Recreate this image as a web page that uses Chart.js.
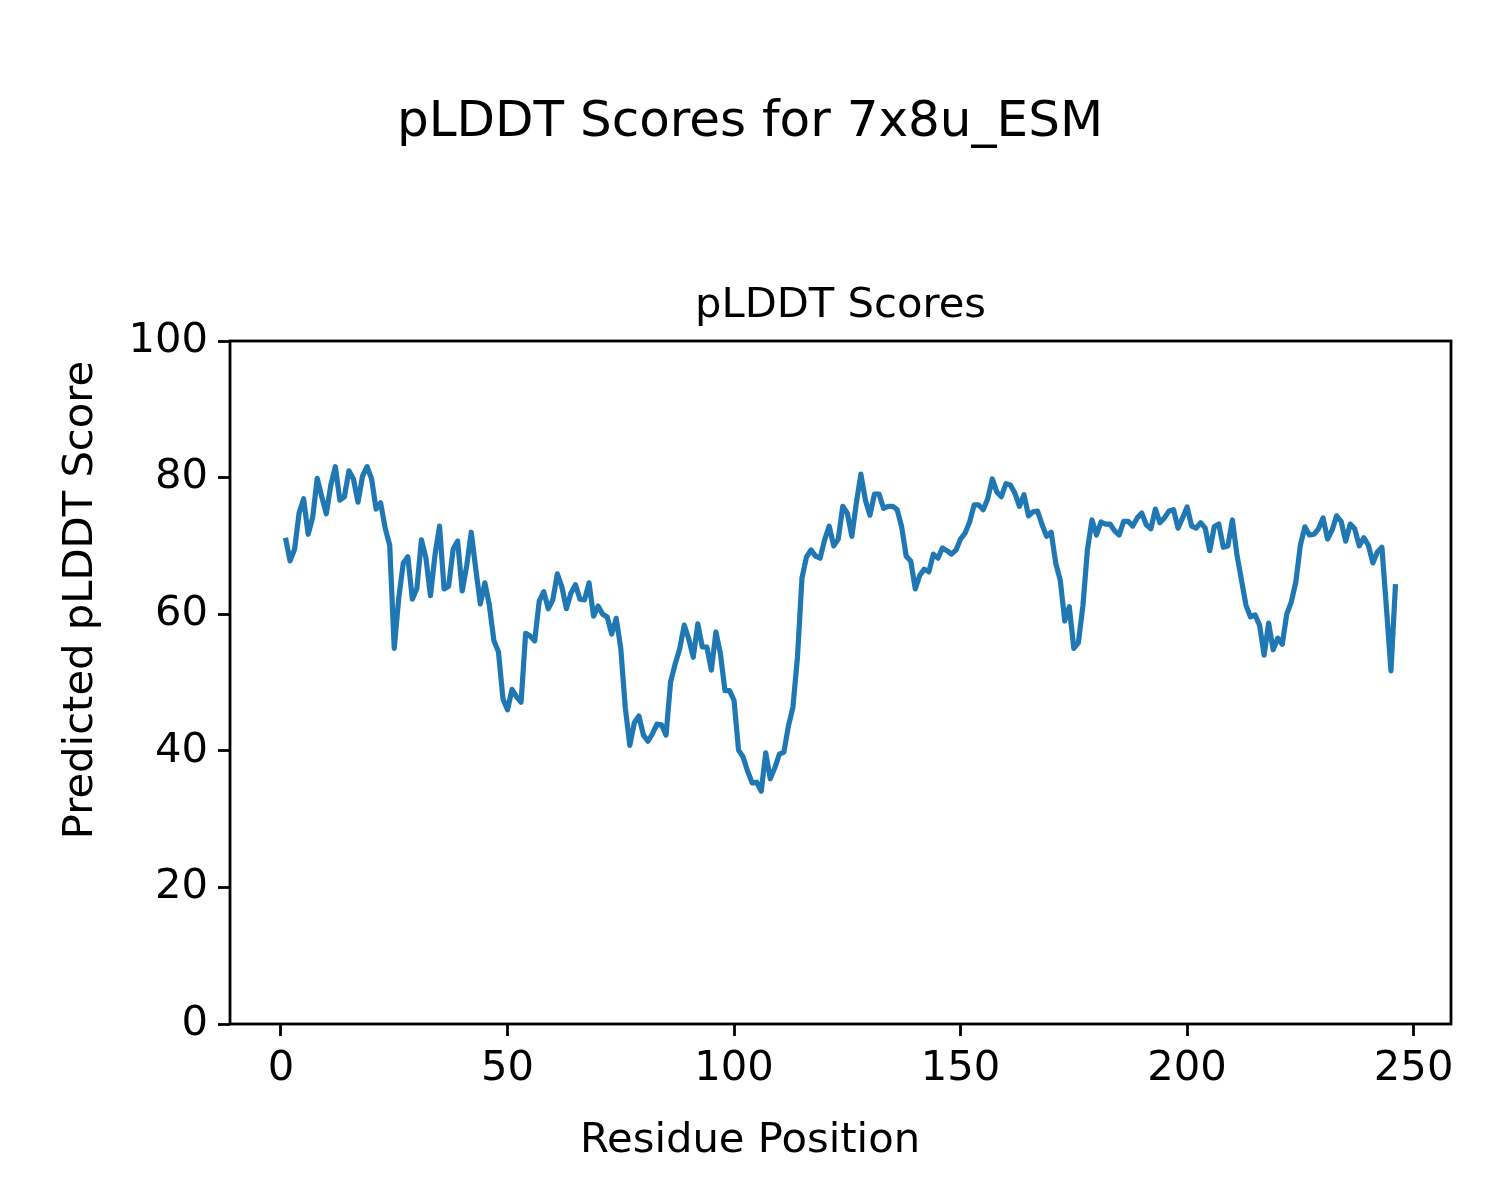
<!DOCTYPE html>
<html>
<head>
<meta charset="utf-8">
<script src="https://cdn.jsdelivr.net/npm/chart.js@4.4.1/dist/chart.umd.min.js"></script>
<style>
  html, body { margin: 0; padding: 0; background: #fff; }
  canvas { display: block; }
</style>
</head>
<body>
<canvas id="plddtChart" width="1500" height="1200"></canvas>
<script>
// pLDDT per residue (residue 1 .. 246)
const scores = [
    71.2, 67.8, 69.5, 74.8, 76.9, 71.7, 74.2, 79.9, 77.2, 74.7,
    78.9, 81.6, 76.7, 77.2, 81.0, 79.8, 76.4, 80.2, 81.6, 79.8,
    75.4, 76.3, 72.6, 70.1, 55.0, 62.4, 67.5, 68.4, 62.2, 63.8,
    70.9, 68.2, 62.7, 68.7, 72.9, 63.7, 64.1, 69.5, 70.7, 63.4,
    67.1, 72.0, 66.6, 61.5, 64.6, 61.3, 56.1, 54.5, 47.6, 46.0,
    49.0, 47.9, 47.1, 57.2, 56.8, 56.1, 61.9, 63.3, 60.8, 62.1,
    65.9, 64.0, 60.8, 63.1, 64.3, 62.2, 62.1, 64.6, 59.7, 61.2,
    60.0, 59.6, 57.1, 59.4, 55.0, 46.3, 40.8, 44.1, 45.1, 42.3,
    41.4, 42.5, 43.9, 43.8, 42.3, 50.1, 52.7, 54.9, 58.4, 56.4,
    53.7, 58.6, 55.2, 55.2, 51.8, 57.4, 54.2, 48.8, 48.8, 47.4,
    40.1, 39.1, 37.0, 35.3, 35.4, 34.1, 39.7, 35.9, 37.5, 39.5,
    39.8, 43.6, 46.4, 53.7, 65.3, 68.4, 69.4, 68.5, 68.2, 70.9,
    72.9, 70.0, 71.0, 75.8, 74.8, 71.4, 76.3, 80.5, 76.7, 74.5,
    77.6, 77.6, 75.5, 75.8, 75.8, 75.3, 72.8, 68.5, 67.8, 63.7,
    65.7, 66.6, 66.2, 68.8, 68.2, 69.7, 69.3, 68.8, 69.4, 71.0,
    71.9, 73.5, 76.0, 76.0, 75.3, 76.9, 79.8, 77.9, 77.2, 79.1,
    78.9, 77.7, 75.8, 77.5, 74.4, 75.0, 75.1, 73.1, 71.4, 72.0,
    67.5, 65.0, 59.0, 61.1, 55.0, 55.8, 61.2, 69.4, 73.8, 71.6,
    73.5, 73.2, 73.2, 72.2, 71.6, 73.6, 73.6, 72.9, 74.1, 74.8,
    73.1, 72.5, 75.4, 73.4, 74.1, 75.1, 75.3, 72.6, 74.1, 75.7,
    72.9, 72.6, 73.4, 72.6, 69.3, 72.8, 73.2, 69.8, 70.0, 73.8,
    68.7, 65.0, 61.3, 59.6, 59.9, 58.4, 54.0, 58.7, 54.8, 56.5,
    55.6, 60.0, 61.8, 64.7, 70.1, 72.8, 71.6, 71.7, 72.5, 74.1,
    71.0, 72.3, 74.4, 73.6, 70.7, 73.2, 72.5, 70.0, 71.2, 70.1,
    67.5, 69.1, 69.8, 60.9, 51.7, 64.4
];
const firstResidue = 1;
const xTicks = [0, 50, 100, 150, 200, 250];
const yTicks = [0, 20, 40, 60, 80, 100];

const figTitle = 'pLDDT Scores for 7x8u_ESM';
const axTitle = 'pLDDT Scores';
const xLabel = 'Residue Position';
const yLabel = 'Predicted pLDDT Score';

const FONT = '"DejaVu Sans", "Liberation Sans", sans-serif';
const FS = 41.7;      // 12pt @ 250dpi
const FS_BIG = 50;    // suptitle, 'large'

Chart.defaults.font.family = FONT;
Chart.defaults.font.size = FS;
Chart.defaults.color = '#000';

// matplotlib style margins: 5% of data span on x
const xMin = firstResidue, xMax = firstResidue + scores.length - 1;
const xPad = (xMax - xMin) * 0.05;

// titles + frame (figure-level labels are centred on the figure, ax title on the axes)
const frameAndText = {
    id: 'frameAndText',
    afterDraw(chart) {
        const { ctx, chartArea: a } = chart;
        ctx.save();
        ctx.strokeStyle = '#000';
        ctx.lineWidth = 2.8;
        ctx.strokeRect(a.left, a.top, a.right - a.left, a.bottom - a.top);

        ctx.fillStyle = '#000';
        ctx.textAlign = 'center';
        ctx.textBaseline = 'alphabetic';
        ctx.font = `${FS_BIG}px ${FONT}`;
        ctx.fillText(figTitle, 750, 136);

        ctx.font = `${FS}px ${FONT}`;
        ctx.fillText(axTitle, (a.left + a.right) / 2, 317);
        ctx.fillText(xLabel, 750, 1152);

        ctx.translate(92, 600);
        ctx.rotate(-Math.PI / 2);
        ctx.fillText(yLabel, 0, 0);
        ctx.restore();
    }
};

new Chart(document.getElementById('plddtChart').getContext('2d'), {
    type: 'line',
    data: {
        datasets: [{
            data: scores.map((s, i) => ({ x: firstResidue + i, y: s })),
            borderColor: '#1f77b4',
            borderWidth: 5.2,
            borderJoinStyle: 'round',
            borderCapStyle: 'butt',
            pointRadius: 0,
            tension: 0,
            fill: false
        }]
    },
    options: {
        responsive: false,
        animation: false,
        layout: { padding: { top: 341, right: 49, left: 0, bottom: 0 } },
        plugins: { legend: { display: false }, tooltip: { enabled: false } },
        scales: {
            x: {
                type: 'linear',
                min: xMin - xPad, max: xMax + xPad,
                afterBuildTicks: s => { s.ticks = xTicks.map(v => ({ value: v })); },
                afterFit: s => { s.height = 176; },
                grid: { drawOnChartArea: false, drawTicks: true, tickLength: 12, tickColor: '#000', tickWidth: 2.8 },
                border: { display: false },
                ticks: { padding: 8, maxRotation: 0, callback: v => v }
            },
            y: {
                type: 'linear',
                min: 0, max: 100,
                afterBuildTicks: s => { s.ticks = yTicks.map(v => ({ value: v })); },
                afterFit: s => { s.width = 230; },
                grid: { drawOnChartArea: false, drawTicks: true, tickLength: 12, tickColor: '#000', tickWidth: 2.8 },
                border: { display: false },
                ticks: { padding: 10, callback: v => v }
            }
        }
    },
    plugins: [frameAndText]
});
</script>
</body>
</html>
